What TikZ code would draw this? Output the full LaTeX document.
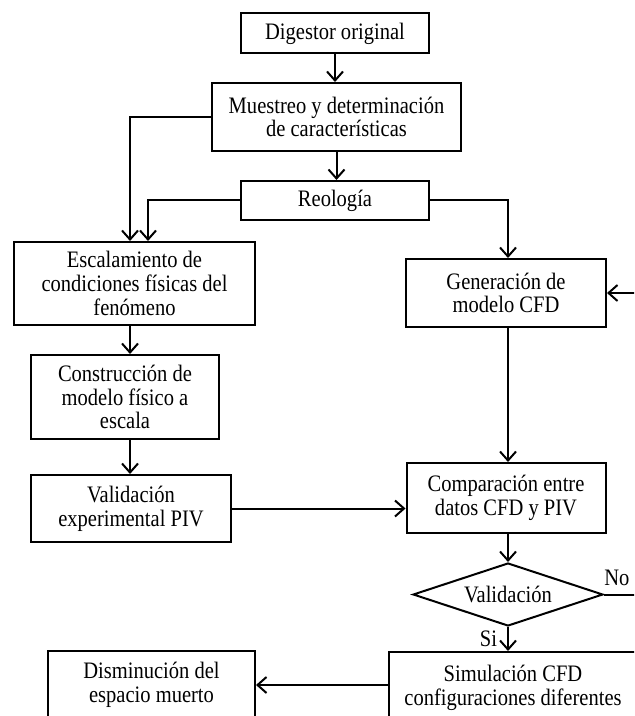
\documentclass[tikz,border=0pt]{standalone}
\usepackage{fontspec}
\setmainfont[FakeStretch=0.87]{Liberation Serif}
\usepackage{tikz}
\usetikzlibrary{shapes.geometric}
\usetikzlibrary{arrows.meta,positioning}
\tikzset{>={Straight Barb[length=4.5pt,width=8pt,line width=1pt]},
	caja/.style={draw,line width=1pt,align=center,inner sep=2pt,
		font=\fontsize{11.8}{11.9}\selectfont},
	flecha/.style={->,line width=1pt}}
\tikzstyle{decision}=[diamond,draw,line width=1pt,aspect=3,inner sep=0pt,
font=\fontsize{11.8}{11.9}\selectfont]
\tikzstyle{etiqueta}=[inner sep=1pt,font=\fontsize{11.8}{11.9}\selectfont]

\begin{document}
\begin{tikzpicture}[x=0.5pt,y=-0.5pt]
	\fill[white] (0,0) rectangle (634,716);
	\clip (0,0) rectangle (634,716);
	\coordinate (colL) at (130,0);
	\coordinate (colLb) at (148,0);
	\coordinate (colR) at (508,0);
	\coordinate (lazo) at (660,0);
	\node[caja,minimum width=94pt,minimum height=20pt] (dig) at (335,33.5) {Digestor original};
	\node[caja,minimum width=124.5pt,minimum height=34pt] (mue) at (336.5,117)
	{Muestreo y determinación\\de características};
	\node[caja,minimum width=94pt,minimum height=19.5pt] (reo) at (335,200.5) {Reología};
	\node[caja,minimum width=120.5pt,minimum height=41.5pt] (esc) at (134.5,283.5)
	{Escalamiento de\\condiciones físicas del\\fenómeno};
	\node[caja,minimum width=100pt,minimum height=34pt] (gen) at (506,293)
	{Generación de\\modelo CFD};
	\node[caja,minimum width=94pt,minimum height=42pt] (con) at (125,397)
	{Construcción de\\modelo físico a\\escala};
	\node[caja,minimum width=100pt,minimum height=33.5pt] (val) at (131,508.5)
	{Validación\\experimental PIV};
	\node[caja,minimum width=99.5pt,minimum height=35pt] (com) at (506,498)
	{Comparación entre\\datos CFD y PIV};
	\node[decision,minimum width=95pt,minimum height=31.5pt] (dia) at (508,594.5) {Validación};
	\node[caja,minimum width=124pt,minimum height=36pt] (sim) at (513,688)
	{Simulación CFD\\configuraciones diferentes};
	\node[caja,minimum width=103.5pt,minimum height=34pt] (dis) at (151.5,685)
	{Disminución del\\espacio muerto};
	
	\draw[flecha] (dig.south) -- (dig.south |- mue.north);
	\draw[flecha] (mue.south) -- (mue.south |- reo.north);
	\draw[flecha] (mue.west) -| (esc.north -| colL);
	\draw[flecha] (reo.west) -| (esc.north -| colLb);
	\draw[flecha] (reo.east) -| (gen.north -| colR);
	\draw[flecha] (esc.south -| colL) -- (con.north -| colL);
	\draw[flecha] (con.south -| colL) -- (val.north -| colL);
	\draw[flecha] (val.east) -- (val.east -| com.west);
	\draw[flecha] (gen.south -| colR) -- (com.north -| colR);
	\draw[flecha] (com.south -| colR) -- (dia.north);
	\draw[flecha] (dia.south) -- (dia.south |- sim.north)
	node[etiqueta,midway,left=4pt] {Si};
	\draw[flecha] (dia.east) -- (dia.east -| lazo) -- (gen.east -| lazo) -- (gen.east);
	\node[etiqueta,anchor=south west,xshift=-1pt,yshift=3pt] (no) at (dia.east) {No};
	\draw[flecha] (dis.east -| sim.west) -- (dis.east);
\end{tikzpicture}
\end{document}
